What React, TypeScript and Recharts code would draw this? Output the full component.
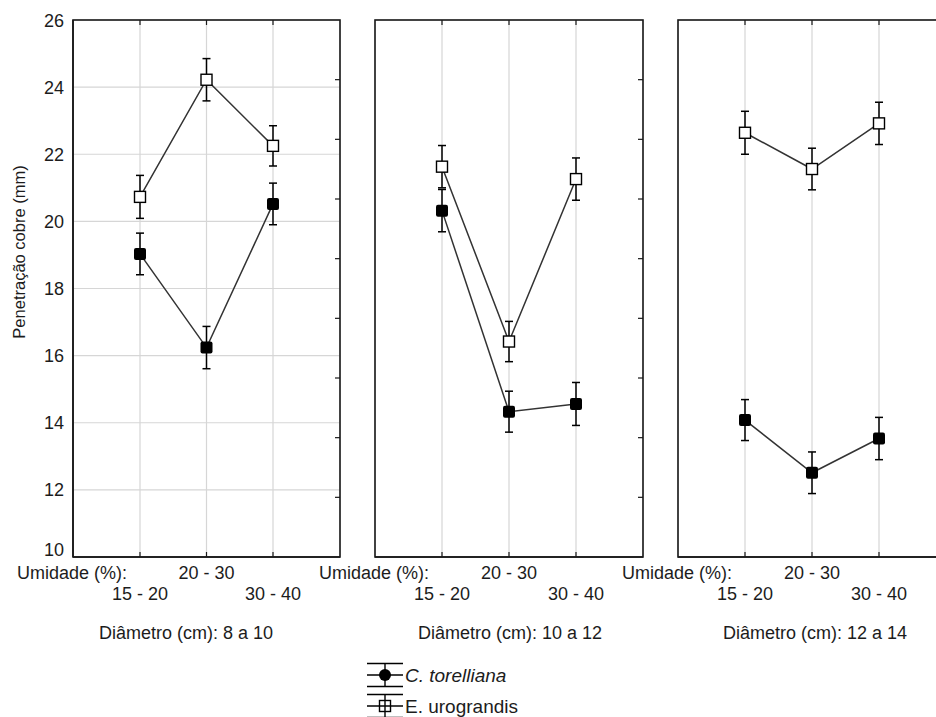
import React from "react";
import {
  LineChart,
  Line,
  XAxis,
  YAxis,
  CartesianGrid,
  ErrorBar,
} from "recharts";

const umidade = ["15 - 20", "20 - 30", "30 - 40"];
const diametros = ["8 a 10", "10 a 12", "12 a 14"];
const seriesNames = ["C. torelliana", "E. urograndis"];

// médias por painel (diâmetro) x umidade
const torelliana = [
  [19.03, 16.24, 20.52],
  [20.32, 14.33, 14.56],
  [14.08, 12.51, 13.53],
];
const torellianaErr = [
  [0.62, 0.63, 0.62],
  [0.63, 0.61, 0.64],
  [0.61, 0.62, 0.63],
];
const urograndis = [
  [20.73, 24.22, 22.25],
  [21.63, 16.42, 21.26],
  [22.64, 21.56, 22.92],
];
const urograndisErr = [
  [0.64, 0.63, 0.6],
  [0.63, 0.6, 0.63],
  [0.64, 0.62, 0.63],
];

const yTicks = [10, 12, 14, 16, 18, 20, 22, 24, 26];
// unlabeled ticks on the right border (scale 0..9)
const rightTicks = [1, 2, 3, 4, 5, 6, 7, 8];
const RIGHT_MAX = 9;

const FONT = '"Liberation Sans", Arial, sans-serif';
const TEXT = "#1c1c1c";
const BORDER = "#1a1a1a";
const PLOT_TOP = 20;

const panels = [
  { left: 0, marginLeft: 0, yWidth: 73, marginRight: 20, titleDx: 26 },
  { left: 300, marginLeft: 75, yWidth: 0, marginRight: 17, titleDx: 43 },
  { left: 600, marginLeft: 78, yWidth: 0, marginRight: 14, titleDx: 45 },
];

const FilledSquare = (props: any) => {
  const { cx, cy, index } = props;
  if (cx == null || cy == null) return <g key={`f${index}`} />;
  return (
    <rect
      key={`f${index}`}
      x={cx - 6}
      y={cy - 6}
      width={12}
      height={12}
      rx={2}
      fill="#000"
    />
  );
};

const OpenSquare = (props: any) => {
  const { cx, cy, index } = props;
  if (cx == null || cy == null) return <g key={`o${index}`} />;
  return (
    <rect
      key={`o${index}`}
      x={cx - 5.5}
      y={cy - 5.5}
      width={11}
      height={11}
      fill="#fff"
      stroke="#000"
      strokeWidth={1.4}
    />
  );
};

const HumidityTick = (props: any) => {
  const { x, y, payload, index } = props;
  const row = index === 1 ? 22 : 43;
  return (
    <g>
      <line x1={x} y1={y} x2={x} y2={y - 5} stroke={BORDER} strokeWidth={1.2} />
      <line
        x1={x}
        y1={PLOT_TOP}
        x2={x}
        y2={PLOT_TOP + 5}
        stroke={BORDER}
        strokeWidth={1.2}
      />
      <text
        x={x}
        y={y + row}
        textAnchor="middle"
        fontFamily={FONT}
        fontSize={18}
        fill={TEXT}
      >
        {payload.value}
      </text>
    </g>
  );
};

const ValueTick = (props: any) => {
  const { y, payload } = props;
  const shift = payload.value === 10 ? -8 : 0;
  return (
    <text
      x={64}
      y={y + 6.5 + shift}
      textAnchor="end"
      fontFamily={FONT}
      fontSize={18}
      fill={TEXT}
    >
      {payload.value}
    </text>
  );
};

function Panel({ index }: { index: number }) {
  const p = panels[index];
  const data = umidade.map((u, i) => ({
    umidade: u,
    ct: torelliana[index][i],
    ctErr: torellianaErr[index][i],
    eu: urograndis[index][i],
    euErr: urograndisErr[index][i],
  }));

  // frame, right-border ticks and texts under the axis
  const bottomLabels = (props: any) => {
    const vb = props.viewBox || {};
    const h = vb.y - PLOT_TOP;
    const right = vb.x + vb.width;
    return (
      <g>
        <rect
          x={vb.x}
          y={PLOT_TOP}
          width={vb.width}
          height={h}
          fill="none"
          stroke={BORDER}
          strokeWidth={1.6}
        />
        {rightTicks.map((t) => {
          const ty = vb.y - (t / RIGHT_MAX) * h;
          return (
            <line
              key={t}
              x1={right}
              x2={right - 5}
              y1={ty}
              y2={ty}
              stroke={BORDER}
              strokeWidth={1.2}
            />
          );
        })}
        <g fontFamily={FONT} fontSize={18} fill={TEXT}>
          <text x={vb.x - 56} y={vb.y + 22}>
            Umidade (%):
          </text>
          <text x={vb.x + p.titleDx} y={vb.y + 82}>
            Diâmetro (cm): {diametros[index]}
          </text>
        </g>
      </g>
    );
  };

  const yLabel = () => (
    <text
      x={19}
      y={252}
      transform="rotate(-90, 19, 252)"
      textAnchor="middle"
      dominantBaseline="central"
      fontFamily={FONT}
      fontSize={16.5}
      fill={TEXT}
    >
      Penetração cobre (mm)
    </text>
  );

  return (
    <div style={{ position: "absolute", left: p.left, top: 0 }}>
      <LineChart
        width={360}
        height={717}
        data={data}
        margin={{ top: PLOT_TOP, right: p.marginRight, bottom: 0, left: p.marginLeft }}
      >
        <CartesianGrid stroke="#d6d6d6" strokeWidth={1.2} />
        <XAxis
          dataKey="umidade"
          padding={{ left: 67, right: 67 }}
          height={160}
          tickSize={0}
          tickMargin={0}
          tickLine={false}
          axisLine={{ stroke: BORDER, strokeWidth: 1.6 }}
          tick={HumidityTick}
          interval={0}
          label={{ content: bottomLabels }}
        />
        <YAxis
          domain={[10, 26]}
          ticks={yTicks}
          width={p.yWidth}
          allowDataOverflow
          tickSize={0}
          tickLine={false}
          tick={index === 0 ? ValueTick : false}
          axisLine={{ stroke: BORDER, strokeWidth: 1.6 }}
          label={index === 0 ? { content: yLabel } : undefined}
        />
        <Line
          type="linear"
          dataKey="ct"
          name={seriesNames[0]}
          stroke="#333"
          strokeWidth={1.5}
          dot={FilledSquare}
          activeDot={false}
          isAnimationActive={false}
        >
          <ErrorBar
            dataKey="ctErr"
            direction="y"
            width={4}
            stroke="#000"
            strokeWidth={1.5}
          />
        </Line>
        <Line
          type="linear"
          dataKey="eu"
          name={seriesNames[1]}
          stroke="#333"
          strokeWidth={1.5}
          dot={OpenSquare}
          activeDot={false}
          isAnimationActive={false}
        >
          <ErrorBar
            dataKey="euErr"
            direction="y"
            width={4}
            stroke="#000"
            strokeWidth={1.5}
          />
        </Line>
      </LineChart>
    </div>
  );
}

function LegendBox() {
  const rows = seriesNames.map((name, i) => ({ name, filled: i === 0 }));
  return (
    <svg
      width={220}
      height={70}
      style={{ position: "absolute", left: 360, top: 650 }}
    >
      {rows.map((r, i) => {
        const cy = 25 + i * 31;
        return (
          <g key={r.name}>
            <line x1={7} x2={43} y1={cy - 11.5} y2={cy - 11.5} stroke="#000" strokeWidth={1.4} />
            <line x1={7} x2={43} y1={cy} y2={cy} stroke="#000" strokeWidth={1.4} />
            <line x1={7} x2={43} y1={cy + 11.5} y2={cy + 11.5} stroke="#000" strokeWidth={1.4} />
            <line x1={25} x2={25} y1={cy - 11.5} y2={cy + 11.5} stroke="#000" strokeWidth={1.4} />
            {r.filled ? (
              <circle cx={25} cy={cy} r={6} fill="#000" />
            ) : (
              <rect x={19.5} y={cy - 5.5} width={11} height={11} fill="none" stroke="#000" strokeWidth={1.4} />
            )}
            <text
              x={45}
              y={cy + 6.5}
              fontFamily={FONT}
              fontSize={19}
              fontStyle={r.filled ? "italic" : "normal"}
              fill={TEXT}
            >
              {r.name}
            </text>
          </g>
        );
      })}
    </svg>
  );
}

export default function App() {
  return (
    <div
      style={{
        position: "absolute",
        left: 0,
        top: 0,
        width: 936,
        height: 717,
        overflow: "hidden",
        background: "#fff",
      }}
    >
      {diametros.map((d, i) => (
        <Panel key={d} index={i} />
      ))}
      <LegendBox />
    </div>
  );
}
